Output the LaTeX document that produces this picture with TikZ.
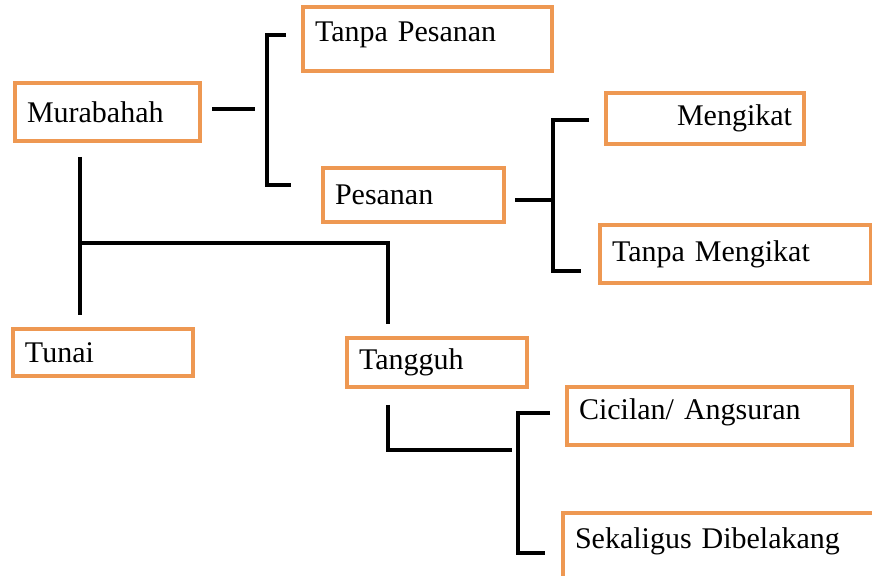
\documentclass[tikz,border=0pt]{standalone}
\usepackage{fontspec}
\setmainfont{Liberation Serif}
\usepackage{tikz}
\usepackage{xcolor}
\definecolor{oranye}{RGB}{238,152,82}

\begin{document}
\begin{tikzpicture}[x=0.5pt, y=-0.5pt]
			\tikzstyle{akad} = [draw=oranye, line width=2pt, rectangle, inner xsep=6pt, inner ysep=0pt, align=left, font=\fontsize{15}{18}\selectfont]
			\tikzstyle{link} = [line width=2.3pt, black]
			
			\useasboundingbox (0,0) rectangle (872,576);
			\clip (0,0) rectangle (872,576);
			
			\node[akad, text width=80.5pt, minimum height=29pt]		at (107.5, 112)	(mur)	{Murabahah};
			\node[akad, text width=112.5pt, minimum height=32pt, text depth=7pt]	at (427.5, 39)	(tp)	{Tanpa Pesanan};
			\node[akad, text width=78.5pt, minimum height=27pt]		at (413.5, 195)	(ps)	{Pesanan};
			\node[akad, text width=87pt, minimum height=25.5pt, align=right]	at (705, 118.5)	(mg)	{Mengikat};
			\node[akad, text width=123.5pt, minimum height=29pt]	at (735.5, 254)	(tm)	{Tanpa Mengikat};
			
			\node[akad, text width=78pt, minimum height=23.5pt]		at (103, 352.5)	(tn)	{Tunai};
			\node[akad, text width=78pt, minimum height=24.5pt]		at (437, 362.5)	(tg)	{Tangguh};
			\node[akad, text width=130.5pt, minimum height=29pt, text depth=6.5pt]	at (709.5, 416)	(cc)	{Cicilan/ Angsuran};
			\node[akad, text width=151.5pt, minimum height=38.5pt, text depth=13.8pt]	at (726.5, 551.5)	(sk)	{Sekaligus Dibelakang};
			
			\coordinate (j1t) at (267, 35);
			\coordinate (j1b) at (267, 185);
			\coordinate (j2t) at (553, 120);
			\coordinate (j2b) at (553, 271);
			\coordinate (j3)  at (80, 243);
			\coordinate (j4)  at (388, 243);
			\coordinate (j5)  at (388, 450);
			\coordinate (j6t) at (518, 413);
			\coordinate (j6b) at (518, 553);
			
			% pesanan / tanpa pesanan
			\draw [link]	([xshift=5pt, yshift=1.5pt]mur.east) -- ([xshift=26.5pt, yshift=1.5pt]mur.east);
			\draw [link]	([xshift=-7.5pt]tp.west |- j1t) -- (j1t) -- (j1b) -- ([xshift=-15pt]ps.west |- j1b);
			\draw [link]	([xshift=4.5pt, yshift=-2.5pt]ps.east) -- ++(40, 0);
			\draw [link]	([xshift=-7.5pt]mg.west |- j2t) -- (j2t) -- (j2b) -- ([xshift=-8.5pt]tm.west |- j2b);
			
			% tunai / tangguh
			\draw [link]	([yshift=-7pt]mur.south -| j3) -- ([yshift=6pt]tn.north -| j3);
			\draw [link]	(j3) -- (j4) -- ([yshift=6pt]tg.north -| j4);
			\draw [link]	([yshift=-8pt]tg.south -| j5) -- (j5) -- ++(124, 0);
			\draw [link]	([xshift=-7.5pt]cc.west |- j6t) -- (j6t) -- (j6b) -- ([xshift=-8pt]sk.west |- j6b);
		\end{tikzpicture}
\end{document}
